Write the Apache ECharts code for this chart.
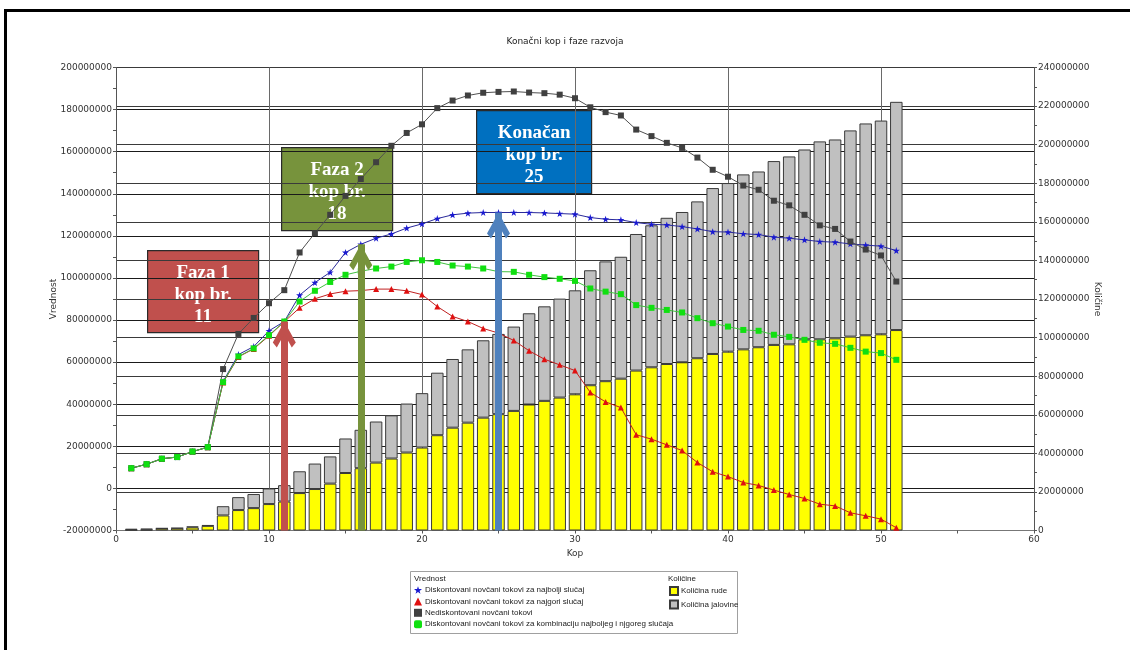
<!DOCTYPE html>
<html><head><meta charset="utf-8">
<script src="https://cdn.jsdelivr.net/npm/echarts@6/dist/echarts.min.js"></script>
<style>html,body{margin:0;padding:0;background:#fff}#c{width:1130px;height:650px}</style>
</head><body><div id="c"></div>
<script>
// x: broj kopa
const kop = [1,2,3,4,5,6,7,8,9,10,11,12,13,14,15,16,17,18,19,20,21,22,23,24,25,26,27,28,29,30,31,32,33,34,35,36,37,38,39,40,41,42,43,44,45,46,47,48,49,50,51];
// Količine (milioni) - desna osa
const rudaM = [0.3,0.4,1.0,1.1,1.6,2.4,7.8,10.6,11.6,13.7,15.0,19.4,21.5,24.3,29.8,32.3,35.2,37.3,40.4,43.0,49.4,53.3,55.9,58.5,60.3,62.0,65.3,67.2,68.9,70.6,75.3,77.4,78.7,82.9,84.6,86.3,87.2,89.3,91.5,92.7,93.9,95.0,96.2,96.5,99.1,99.1,99.6,100.5,101.2,101.7,103.9];
const jalovinaM = [0.6,0.6,0.2,0.2,0.5,0.4,4.8,6.7,7.3,8.1,8.5,11.3,13.2,14.1,17.9,19.9,21.3,22.4,25.4,28.2,32.4,35.6,38.0,40.1,41.6,43.7,47.3,49.0,51.3,53.9,59.6,62.1,63.2,70.8,73.6,75.8,77.9,81.3,86.0,87.4,90.7,91.1,95.3,97.4,98.4,102.6,103.1,106.9,109.8,110.8,118.3];
// Vrednost (milioni) - leva osa
const najboljiM = [9.6,11.5,14.1,14.9,17.5,19.6,50.8,63.6,67.4,74.9,79.3,91.8,97.8,102.7,112.1,116.0,118.9,120.9,123.7,125.7,128.2,130.0,130.8,131.1,131.1,131.1,131.1,130.9,130.6,130.3,128.7,127.9,127.6,126.3,125.5,125.2,124.4,123.3,122.0,121.8,121.0,120.6,119.4,118.9,118.1,117.3,117.0,116.2,115.6,115.1,113.0];
const najgoriM = [9.6,11.5,14.1,14.9,17.5,19.6,50.3,62.5,66.3,72.5,79.2,85.8,90.1,92.4,93.7,94.0,94.7,94.7,93.9,92.1,86.4,81.7,79.3,76.0,73.8,70.3,65.4,61.4,58.7,56.0,45.6,41.1,38.4,25.5,23.4,20.7,18.0,12.3,7.9,5.6,2.8,1.4,-0.8,-2.9,-4.8,-7.5,-8.3,-11.6,-13.0,-14.6,-18.7];
const nediskM = [9.6,11.5,14.1,14.9,17.5,19.6,56.7,73.4,81.0,88.0,94.2,112.1,121.3,130.0,139.0,147.0,155.0,162.8,168.9,173.0,180.7,184.3,186.7,188.0,188.4,188.6,188.1,187.8,187.1,185.4,181.1,178.8,177.2,170.5,167.4,164.2,161.8,157.2,151.4,148.1,143.9,141.9,136.7,134.5,130.0,125.0,123.3,117.3,113.5,110.7,98.3];
const kombM = [9.6,11.5,14.1,14.9,17.5,19.6,50.5,62.7,66.5,72.8,79.3,88.8,93.9,98.1,101.5,103.2,104.5,105.4,107.6,108.4,107.6,105.9,105.4,104.5,103.0,102.9,101.5,100.4,99.6,98.6,95.0,93.5,92.3,87.1,85.8,84.8,83.6,80.9,78.5,76.9,75.3,74.9,73.0,72.0,70.6,69.2,68.7,66.8,65.0,64.3,61.1];
// faze
const fazaKop = [11, 16, 25];
const fazaTekst = ['Faza 1\nkop br.\n11', 'Faza 2\nkop br.\n18', 'Konačan\nkop br.\n25'];

const nBest = 'Diskontovani novčani tokovi za najbolji slučaj';
const nWorst = 'Diskontovani novčani tokovi za najgori slučaj';
const nUndisc = 'Nediskontovani novčani tokovi';
const nComb = 'Diskontovani novčani tokovi za kombinaciju najboljeg i njgoreg slučaja';
const nOre = 'Količina rude';
const nWaste = 'Količina jalovine';

const X_MIN = 0, X_MAX = 60;
// hidden category axis 0..60 aligned with the value axis (for stacked bars)
const xCats = [];
for (let i = X_MIN; i <= X_MAX; i++) xCats.push(String(i));
const onCats = arr => xCats.map(c => { const j = kop.indexOf(Number(c)); return j >= 0 ? arr[j] : '-'; });

const starPath = 'path://M5,0 L6.2,3.6 L10,3.6 L7,5.9 L8.1,9.6 L5,7.3 L1.9,9.6 L3,5.9 L0,3.6 L3.8,3.6 Z';
const chevron = 'path://M0,21 L11.5,0 L23,21 L19,26 L11.5,12.5 L4,26 Z';

const pairs = arr => kop.map((k, i) => [k, arr[i]]);
const fmt = v => v === 0 ? '0' : (v + '000000');
const F = 'DejaVu Sans';

const chart = echarts.init(document.getElementById('c'), null, {renderer: 'canvas'});

function lineSeries(name, data, color, lineColor, symbol, size) {
  return {
    name, type: 'line', xAxisIndex: 0, yAxisIndex: 0, data: pairs(data),
    symbol, symbolSize: size, showSymbol: true,
    itemStyle: {color: color, borderWidth: 0},
    lineStyle: {color: lineColor, width: 1},
    animation: false, z: 3
  };
}

const arrowColors = ['#C0504D', '#77933C', '#4F81BD'];
const arrowLines = fazaKop.map((k, i) => [
  {coord: [k, -20], lineStyle: {color: arrowColors[i], width: 7, type: 'solid', cap: 'butt'}},
  {coord: [k, najboljiM[k - 1]]}
]);
const arrowHeads = fazaKop.map((k, i) => ({coord: [k, najboljiM[k - 1]], itemStyle: {color: arrowColors[i]}}));

const boxes = [
  {x: 147, y: 250, w: 111, h: 82, fill: '#C0504D'},
  {x: 281, y: 147, w: 111, h: 83, fill: '#77933C'},
  {x: 476, y: 110, w: 115, h: 83, fill: '#0070C0'}
];

const graphics = [
  {type: 'line', shape: {x1: 4, y1: 10.5, x2: 1130, y2: 10.5}, style: {stroke: '#000', lineWidth: 3}, z: 100},
  {type: 'line', shape: {x1: 5.5, y1: 9, x2: 5.5, y2: 650}, style: {stroke: '#000', lineWidth: 3}, z: 100},
  {type: 'rect', shape: {x: 410.5, y: 571.5, width: 327, height: 62}, style: {fill: '#fff', stroke: '#a0a0a0', lineWidth: 1}, z: 0},
  {type: 'text', left: 414, top: 575, style: {text: 'Vrednost', font: '8px "Liberation Sans"', fill: '#222'}, z: 10},
  {type: 'text', left: 668, top: 575, style: {text: 'Količine', font: '8px "Liberation Sans"', fill: '#222'}, z: 10}
];
boxes.forEach((b, i) => {
  graphics.push({
    type: 'group', left: b.x, top: b.y, z: 50,
    children: [
      {type: 'rect', shape: {x: 0, y: 0, width: b.w, height: b.h}, style: {fill: b.fill, stroke: '#2a2a2a', lineWidth: 1.2}},
      {type: 'text', x: b.w / 2, y: b.h / 2 + 3, style: {text: fazaTekst[i], fill: '#fff', font: 'bold 19px "Liberation Serif"', align: 'center', verticalAlign: 'middle', lineHeight: 22}}
    ]
  });
});

const legendText = {fontFamily: 'Liberation Sans', fontSize: 8, color: '#222', padding: [0, 0, 0, -2]};

const option = {
  animation: false,
  backgroundColor: '#fff',
  title: {text: 'Konačni kop i faze razvoja', left: 'center', top: 32, textStyle: {fontFamily: F, fontSize: 9, fontWeight: 'normal', color: '#222'}},
  grid: {left: 116, right: 96, top: 67.5, bottom: 119.5, containLabel: false},
  legend: [
    {data: [{name: nBest, icon: starPath}, {name: nWorst, icon: 'triangle'}, {name: nUndisc, icon: 'rect'}, {name: nComb, icon: 'roundRect'}],
     orient: 'vertical', left: 414, top: 586, itemWidth: 8, itemHeight: 8, itemGap: 3.4, padding: 0, textStyle: legendText},
    {data: [{name: nOre, icon: 'rect'}, {name: nWaste, icon: 'rect'}],
     orient: 'vertical', left: 669, top: 586, itemWidth: 8, itemHeight: 8, itemGap: 3.4, padding: 0, textStyle: legendText}
  ],
  xAxis: [{
    type: 'value', min: X_MIN, max: X_MAX, interval: 10,
    name: 'Kop', nameLocation: 'middle', nameGap: 19,
    nameTextStyle: {fontFamily: F, fontSize: 9, color: '#333'},
    axisLine: {show: true, onZero: false, lineStyle: {color: '#777', width: 1}},
    axisTick: {show: true, length: 3, lineStyle: {color: '#555'}},
    minorTick: {show: true, splitNumber: 2, length: 3, lineStyle: {color: '#555'}},
    axisLabel: {fontFamily: F, fontSize: 9, color: '#333', margin: 5},
    splitLine: {show: true, lineStyle: {color: '#6a6a6a', width: 1}}
  }, {
    type: 'category', data: xCats, boundaryGap: false, show: false,
    axisLine: {show: false}, axisTick: {show: false}, axisLabel: {show: false}, splitLine: {show: false}
  }],
  yAxis: [
    {type: 'value', min: -20, max: 200, interval: 20, position: 'left',
     name: 'Vrednost', nameLocation: 'middle', nameGap: 58, nameMoveOverlap: false,
     nameTextStyle: {fontFamily: F, fontSize: 9, color: '#333'},
     axisLine: {show: true, onZero: false, lineStyle: {color: '#555'}},
     axisTick: {show: true, length: 3, lineStyle: {color: '#555'}},
     minorTick: {show: true, splitNumber: 2, length: 3, lineStyle: {color: '#555'}},
     axisLabel: {fontFamily: F, fontSize: 9, color: '#333', margin: 4, formatter: fmt},
     splitLine: {show: true, lineStyle: {color: '#1a1a1a', width: 1}}},
    {type: 'value', min: 0, max: 240, interval: 20, position: 'right',
     name: 'Količine', nameLocation: 'middle', nameGap: 59, nameRotate: -90, nameMoveOverlap: false,
     nameTextStyle: {fontFamily: F, fontSize: 9, color: '#333'},
     axisLine: {show: true, onZero: false, lineStyle: {color: '#555'}},
     axisTick: {show: true, length: 3, lineStyle: {color: '#555'}},
     minorTick: {show: true, splitNumber: 2, length: 3, lineStyle: {color: '#555'}},
     axisLabel: {fontFamily: F, fontSize: 9, color: '#333', margin: 4, formatter: fmt},
     splitLine: {show: true, lineStyle: {color: '#3a3a3a', width: 1}}}
  ],
  series: [
    {name: nOre, type: 'bar', xAxisIndex: 1, yAxisIndex: 1, stack: 'kol', data: onCats(rudaM), barWidth: 12.5,
     itemStyle: {color: '#FFFF00', borderColor: '#3a3a3a', borderWidth: 1}, z: 2},
    {name: nWaste, type: 'bar', xAxisIndex: 1, yAxisIndex: 1, stack: 'kol', data: onCats(jalovinaM), barWidth: 12.5,
     itemStyle: {color: '#C0C0C0', borderColor: '#3a3a3a', borderWidth: 1}, z: 2},
    lineSeries(nBest, najboljiM, '#1a1ad0', '#2a2a9a', starPath, 7),
    lineSeries(nWorst, najgoriM, '#e01010', '#c02020', 'triangle', 6),
    lineSeries(nUndisc, nediskM, '#404040', '#505050', 'rect', 6),
    lineSeries(nComb, kombM, '#10e010', '#40c040', 'rect', 6),
    {name: 'strelice', type: 'line', xAxisIndex: 0, yAxisIndex: 0, data: [], z: 20, silent: true,
     markLine: {silent: true, symbol: ['none', 'none'], label: {show: false},
       lineStyle: {type: 'solid'}, animation: false, data: arrowLines},
     markPoint: {silent: true, symbol: chevron, symbolSize: [23, 26], symbolOffset: [0, '50%'],
       label: {show: false}, animation: false, data: arrowHeads}}
  ],
  graphic: graphics
};
chart.setOption(option);
</script></body></html>
